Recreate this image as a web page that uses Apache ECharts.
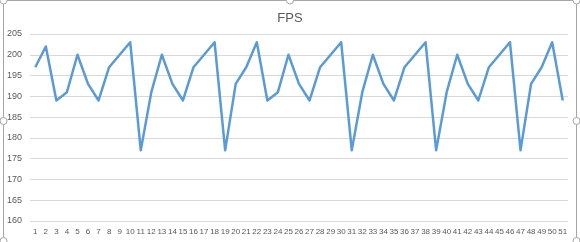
<!DOCTYPE html>
<html><head><meta charset="utf-8">
<script src="https://cdn.jsdelivr.net/npm/echarts@6/dist/echarts.min.js"></script>
<style>html,body{margin:0;padding:0;background:#fff}#c{width:580px;height:242px}</style>
</head><body><div id="c"></div>
<script>
const categories = Array.from({length: 51}, (_, i) => String(i + 1));
const fps = [197,202,189,191,200,193,189,197,200,203,
             177,191,200,193,189,197,200,203,177,193,
             197,203,189,191,200,193,189,197,200,203,
             177,191,200,193,189,197,200,203,177,191,
             200,193,189,197,200,203,177,193,197,203,189];
const yMin = 160, yMax = 205, yStep = 5;

const chart = echarts.init(document.getElementById('c'), null, {renderer: 'canvas'});
const handle = (x, y) => ({type: 'circle', shape: {cx: x, cy: y, r: 3.5}, style: {fill: '#fff', stroke: '#a6a6a6', lineWidth: 1}, z: 10});
chart.setOption({
  animation: false,
  backgroundColor: '#fff',
  title: {text: 'FPS', left: 'center', top: 7, textStyle: {color: '#595959', fontSize: 13, fontWeight: 'normal', fontFamily: 'Liberation Sans'}},
  grid: {left: 30, right: 12, top: 34, bottom: 21, containLabel: false},
  xAxis: {
    type: 'category', data: categories, boundaryGap: true,
    axisLine: {show: false}, axisTick: {show: false},
    axisLabel: {color: '#595959', fontSize: 8, interval: 0, margin: 7, fontFamily: 'Liberation Sans Narrow, Liberation Sans'}
  },
  yAxis: {
    type: 'value', min: yMin, max: yMax, interval: yStep,
    axisLine: {show: false}, axisTick: {show: false},
    axisLabel: {color: '#595959', fontSize: 9, margin: 8, fontFamily: 'Liberation Sans'},
    splitLine: {lineStyle: {color: '#d9d9d9', width: 1}}
  },
  series: [{
    type: 'line', data: fps, symbol: 'none',
    lineStyle: {color: '#5b9bd5', width: 2.5, join: 'round'}
  }],
  graphic: [
    {type: 'rect', shape: {x: 3.5, y: 0.5, width: 573, height: 245}, style: {fill: 'none', stroke: '#a6a6a6', lineWidth: 1}, z: 9},
    handle(3.5, 0.5), handle(290, 0.5), handle(576.5, 0.5),
    handle(3.5, 121), handle(576.5, 121),
    handle(3.5, 241), handle(576.5, 241)
  ]
});
</script></body></html>
